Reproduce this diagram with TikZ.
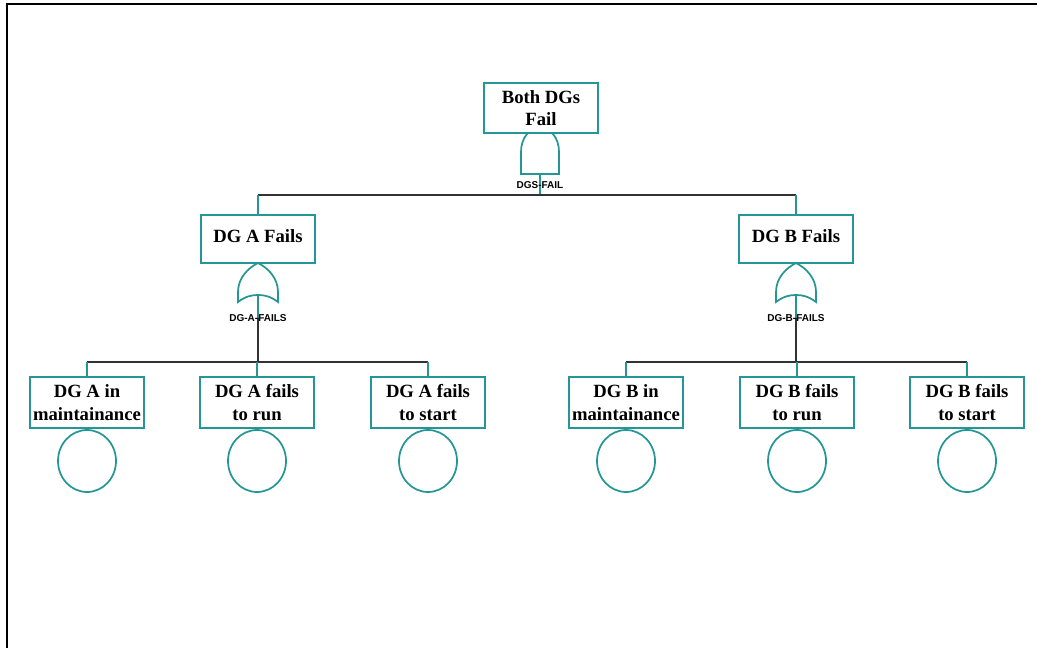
\documentclass[tikz,border=0pt]{standalone}
\usepackage{fontspec}
\setmainfont{Liberation Serif}
\setsansfont{Liberation Sans}
\usetikzlibrary{shapes.geometric}
\definecolor{gteal}{RGB}{36,150,150}
\definecolor{dline}{RGB}{50,50,50}
\begin{document}
\begin{tikzpicture}[x=0.75pt,y=-0.75pt,
  box/.style={draw=gteal, fill=white, line width=1.3pt, inner sep=0pt, align=center,
    font=\fontsize{14}{17}\selectfont\bfseries},
  topbox/.style={box, minimum width=85.5pt, minimum height=37.5pt},
  midbox/.style={box, minimum width=86pt, minimum height=36pt},
  leafbox/.style={box, minimum width=85.5pt, minimum height=38.25pt},
  evt/.style={draw=gteal, line width=1.3pt, ellipse, minimum width=43.5pt, minimum height=46.5pt, inner sep=0pt},
  gate/.style={draw=gteal, line width=1.3pt, fill=white},
  tconn/.style={draw=gteal, line width=1.4pt},
  hconn/.style={draw=dline, line width=1.4pt},
  glabel/.style={font=\sffamily\bfseries\fontsize{7.5}{8}\selectfont, inner sep=0pt}]
\useasboundingbox (0,0) rectangle (1037,648);
\draw[line width=1.8pt, black] (7,648) -- (7,4) -- (1037,4);

% ---- top gate (AND) ----
\draw[gate] (521,174) -- (521,152) .. controls (521,137) and (530,128) .. (540,128)
  .. controls (550,128) and (559,137) .. (559,152) -- (559,174) -- cycle;
\coordinate (gtop) at (540,174);
\coordinate (htop) at (540,195);

% ---- OR gates ----
\draw[gate] (258,263) .. controls (268,268) and (278,278) .. (278,292) -- (278,302)
  .. controls (270,296) and (264,295) .. (258,295) .. controls (252,295) and (246,296) .. (238,302)
  -- (238,292) .. controls (238,278) and (248,268) .. (258,263) -- cycle;
\coordinate (gA) at (258,295);
\coordinate (hA) at (258,362);
\draw[gate] (796,263) .. controls (806,268) and (816,278) .. (816,292) -- (816,302)
  .. controls (808,296) and (802,295) .. (796,295) .. controls (790,295) and (784,296) .. (776,302)
  -- (776,292) .. controls (776,278) and (786,268) .. (796,263) -- cycle;
\coordinate (gB) at (796,295);
\coordinate (hB) at (796,362);

% ---- boxes ----
\node[topbox] (top) at (541,108) {Both DGs\\Fail};
\node[midbox] (A) at (258,239) {\raisebox{5pt}{DG A Fails}};
\node[midbox] (B) at (796,239) {\raisebox{5pt}{DG B Fails}};

\node[leafbox] (a1) at (87,402.5) {DG A in\\maintainance};
\node[leafbox] (a2) at (257,402.5) {DG A fails\\to run};
\node[leafbox] (a3) at (428,402.5) {DG A fails\\to start};
\node[leafbox] (b1) at (626,402.5) {DG B in\\maintainance};
\node[leafbox] (b2) at (797,402.5) {DG B fails\\to run};
\node[leafbox] (b3) at (967,402.5) {DG B fails\\to start};

% ---- basic events ----
\node[evt] (e1) at (87,461) {};
\node[evt] (e2) at (257,461) {};
\node[evt] (e3) at (428,461) {};
\node[evt] (e4) at (626,461) {};
\node[evt] (e5) at (797,461) {};
\node[evt] (e6) at (967,461) {};

% ---- connectors top ----
\draw[tconn] (gtop) -- (htop);
\draw[hconn] (A.north |- htop) -- (B.north |- htop);
\draw[tconn] (A.north |- htop) -- (A.north);
\draw[tconn] (B.north |- htop) -- (B.north);
\node[glabel] (lt) at (540,185) {DGS-FAIL};

% ---- connectors A ----
\draw[tconn] (gA) -- (258,318);
\draw[hconn] (258,318) -- (hA);
\draw[hconn] (a1.north |- hA) -- (a3.north |- hA);
\draw[tconn] (a1.north |- hA) -- (a1.north);
\draw[tconn] (a2.north |- hA) -- (a2.north);
\draw[tconn] (a3.north |- hA) -- (a3.north);
\node[glabel] (lA) at (258,318) {DG-A-FAILS};

% ---- connectors B ----
\draw[tconn] (gB) -- (796,318);
\draw[hconn] (796,318) -- (hB);
\draw[hconn] (b1.north |- hB) -- (b3.north |- hB);
\draw[tconn] (b1.north |- hB) -- (b1.north);
\draw[tconn] (b2.north |- hB) -- (b2.north);
\draw[tconn] (b3.north |- hB) -- (b3.north);
\node[glabel] (lB) at (796,318) {DG-B-FAILS};
\end{tikzpicture}
\end{document}
